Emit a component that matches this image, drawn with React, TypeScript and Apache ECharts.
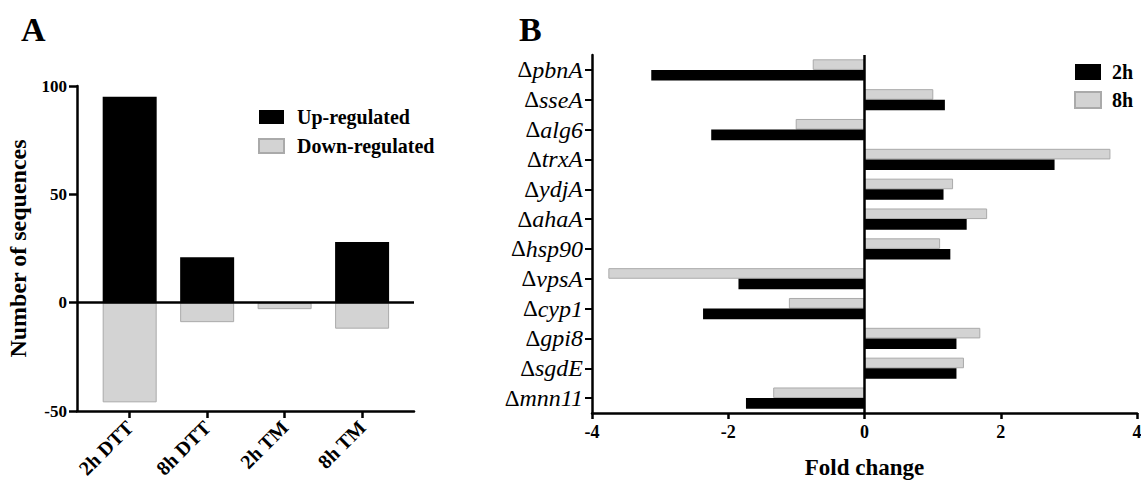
import React, { useEffect, useRef } from "react";
import * as echarts from "echarts";

const conditions = ["2h DTT", "8h DTT", "2h TM", "8h TM"];
const upRegulated = [95, 21, 0, 28];
const downRegulated = [-46, -9, -3, -12];

const genes = ["pbnA", "sseA", "alg6", "trxA", "ydjA", "ahaA", "hsp90", "vpsA", "cyp1", "gpi8", "sgdE", "mnn11"];
const fold2h = [-3.13, 1.18, -2.25, 2.79, 1.16, 1.5, 1.26, -1.85, -2.37, 1.35, 1.35, -1.74];
const fold8h = [-0.76, 1.01, -1.01, 3.61, 1.3, 1.8, 1.11, -3.76, -1.11, 1.7, 1.46, -1.34];

const FONT = "Liberation Serif";
const GREY = "#d3d3d3";
const GREY_BORDER = "#aaaaaa";

const makeAxisLine = () => ({ show: true, onZero: false, lineStyle: { color: "#000", width: 2.5 } });
const makeTick = (length: number, extra: any = {}) => ({
  show: true,
  length,
  lineStyle: { width: 2.5, color: "#000" },
  ...extra,
});

export default function App() {
  const ref = useRef<HTMLDivElement>(null);
  useEffect(() => {
    if (!ref.current) return;
    const chart = echarts.init(ref.current, null, { renderer: "svg" });
    const option: any = {
      animation: false,
      backgroundColor: "#fff",
      textStyle: { fontFamily: FONT },
      title: [
        { text: "A", left: 16, top: 7, textStyle: { fontFamily: FONT, fontSize: 34, fontWeight: "bold", color: "#000" } },
        { text: "B", left: 514, top: 7, textStyle: { fontFamily: FONT, fontSize: 34, fontWeight: "bold", color: "#000" } },
      ],
      legend: [
        {
          data: ["Up-regulated", "Down-regulated"],
          orient: "vertical",
          left: 253,
          top: 102,
          itemWidth: 25,
          itemHeight: 14,
          itemGap: 9,
          icon: "rect",
          textStyle: { fontFamily: FONT, fontSize: 20, fontWeight: "bold", color: "#000", padding: [0, 0, 0, 8] },
        },
        {
          data: ["2h", "8h"],
          orient: "vertical",
          left: 1069,
          top: 57,
          itemWidth: 26,
          itemHeight: 16,
          itemGap: 8,
          icon: "rect",
          textStyle: { fontFamily: FONT, fontSize: 20, fontWeight: "bold", color: "#000", padding: [0, 0, 0, 6] },
        },
      ],
      grid: [
        { left: 77, top: 86, width: 337, height: 325, outerBoundsMode: "none", containLabel: false },
        { left: 592, top: 55, width: 545, height: 358, outerBoundsMode: "none", containLabel: false },
      ],
      xAxis: [
        {
          gridIndex: 0,
          type: "value",
          min: -0.68,
          max: 3.67,
          splitLine: { show: false },
          axisLine: makeAxisLine(),
          axisTick: makeTick(7, { customValues: [0, 1, 2, 3] }),
          axisLabel: {
            customValues: [0, 1, 2, 3],
            formatter: (v: number) => conditions[Math.round(v)] ?? "",
            rotate: 45,
            fontFamily: FONT,
            fontSize: 20,
            fontWeight: "bold",
            color: "#000",
            margin: 13,
          },
        },
        {
          gridIndex: 1,
          type: "value",
          min: -4,
          max: 4,
          interval: 2,
          splitLine: { show: false },
          axisLine: makeAxisLine(),
          axisTick: makeTick(6),
          axisLabel: { fontFamily: FONT, fontSize: 18, fontWeight: "bold", color: "#000", margin: 10 },
          name: "Fold change",
          nameLocation: "middle",
          nameGap: 43,
          nameTextStyle: { fontFamily: FONT, fontSize: 23, fontWeight: "bold", color: "#000" },
        },
      ],
      yAxis: [
        {
          gridIndex: 0,
          type: "value",
          min: -50,
          max: 100,
          interval: 50,
          splitLine: { show: false },
          axisLine: makeAxisLine(),
          axisTick: makeTick(8),
          axisLabel: { fontFamily: FONT, fontSize: 17, fontWeight: "bold", color: "#000", margin: 10 },
          name: "Number of sequences",
          nameLocation: "middle",
          nameGap: 47,
          nameTextStyle: { fontFamily: FONT, fontSize: 24, fontWeight: "bold", color: "#000" },
        },
        {
          gridIndex: 1,
          type: "category",
          data: genes,
          inverse: true,
          axisLine: makeAxisLine(),
          axisTick: makeTick(7, { alignWithLabel: true, lineStyle: { width: 2, color: "#000" } }),
          axisLabel: {
            margin: 9,
            formatter: (v: string) => `{d|Δ}{g|${v}}`,
            rich: {
              d: { fontFamily: FONT, fontSize: 23, color: "#000" },
              g: { fontFamily: FONT, fontSize: 24, fontStyle: "italic", color: "#000" },
            },
          },
        },
      ],
      series: [
        {
          name: "Up-regulated",
          type: "bar",
          xAxisIndex: 0,
          yAxisIndex: 0,
          stack: "a",
          barWidth: 54,
          data: upRegulated.map((v, i) => [i, v]),
          itemStyle: { color: "#000" },
          markLine: {
            silent: true,
            symbol: "none",
            label: { show: false },
            lineStyle: { color: "#000", width: 2.5, type: "solid" },
            data: [{ yAxis: 0 }],
          },
        },
        {
          name: "Down-regulated",
          type: "bar",
          xAxisIndex: 0,
          yAxisIndex: 0,
          stack: "a",
          barWidth: 54,
          data: downRegulated.map((v, i) => [i, v]),
          itemStyle: { color: GREY, borderColor: GREY_BORDER, borderWidth: 1 },
        },
        {
          name: "8h",
          type: "bar",
          xAxisIndex: 1,
          yAxisIndex: 1,
          barWidth: 10.6,
          barGap: "0%",
          data: fold8h,
          itemStyle: { color: GREY, borderColor: GREY_BORDER, borderWidth: 1 },
          markLine: {
            silent: true,
            symbol: "none",
            label: { show: false },
            lineStyle: { color: "#000", width: 2.5, type: "solid" },
            data: [{ xAxis: 0 }],
          },
        },
        {
          name: "2h",
          type: "bar",
          xAxisIndex: 1,
          yAxisIndex: 1,
          barWidth: 10.6,
          barGap: "0%",
          data: fold2h,
          itemStyle: { color: "#000" },
        },
      ],
    };
    chart.setOption(option);
    return () => chart.dispose();
  }, []);
  return (
    <div
      ref={ref}
      style={{ position: "absolute", left: 0, top: 0, width: 1141, height: 481, background: "#fff" }}
    />
  );
}
